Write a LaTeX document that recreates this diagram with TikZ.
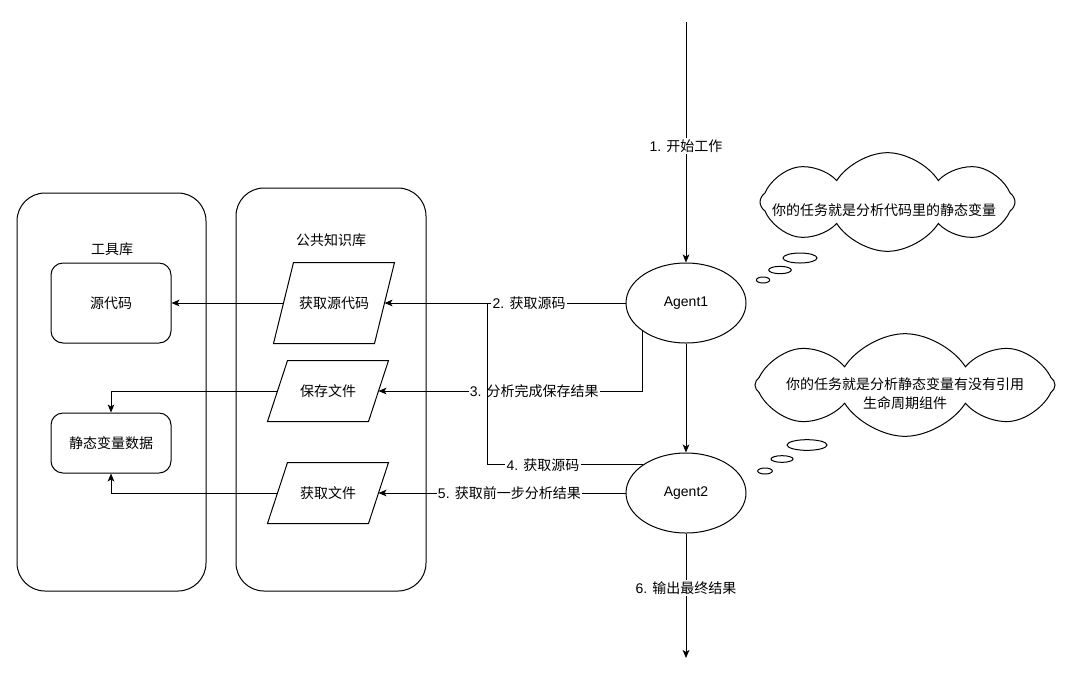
\documentclass[tikz,border=0pt]{standalone}
\usepackage{fontspec}
\setmainfont{Liberation Sans}
\newfontfamily\cjkf{Noto Sans CJK SC}
\newcommand\zh[1]{{\cjkf #1}}
\usetikzlibrary{arrows.meta,shapes.geometric,shapes.symbols,calc}
\begin{document}
\begin{tikzpicture}[x=0.75pt,y=-0.75pt,line width=0.75pt,
  every node/.style={font=\fontsize{10.5pt}{14.25pt}\selectfont},
  zhs/.style={font=\fontsize{10.5pt}{14.25pt}\selectfont\cjkf},
  container/.style={draw, rounded corners=21pt, inner sep=0pt},
  box/.style={draw, rounded corners=9pt, inner sep=0pt, minimum width=90pt, zhs},
  para/.style={inner sep=0pt, minimum width=90pt, zhs},
  agent/.style={draw, ellipse, inner sep=0pt, minimum width=90pt, minimum height=60pt},
  lbl/.style={fill=white, inner sep=1pt},
  arr/.style={-{Stealth[length=6pt,width=5pt,inset=1.5pt]}},
  thought/.style={draw, cloud, cloud puffs=8, cloud puff arc=115, inner sep=0pt},
  bubble/.style={draw, ellipse, inner sep=0pt}]
\useasboundingbox (0,0) rectangle (1073,679);

% containers
\node[container, minimum width=141.75pt, minimum height=298.5pt] (c1) at (111.5,392) {};
\node[container, minimum width=142.5pt, minimum height=302.25pt] (c2) at (331,389.5) {};
\node[zhs] (t1) at (112,249) {工具库};
\node[zhs] (t2) at (331,240) {公共知识库};

% tool boxes
\node[box, minimum height=60pt] (src) at (111,303) {源代码};
\node[box, minimum height=45pt] (data) at (111,443) {静态变量数据};

% knowledge parallelograms (text nodes, outlines drawn below)
\node[para, minimum height=60pt] (p1) at (334,303) {获取源代码};
\node[para, minimum height=45pt] (p2) at (328,391) {保存文件};
\node[para, minimum height=45pt] (p3) at (328,493) {获取文件};
\foreach \p in {p1,p2,p3}{
  \draw ($(\p.north west)+(20,0)$) -- (\p.north east) -- ($(\p.south east)+(-20,0)$) -- (\p.south west) -- cycle;
  \coordinate (\p e) at ($(\p.east)+(-10,0)$);
  \coordinate (\p w) at ($(\p.west)+(10,0)$);
}

% agents
\node[agent] (a1) at (686,303) {Agent1};
\node[agent] (a2) at (686,493) {Agent2};
\coordinate (start) at (686,22);
\coordinate (finish) at (686,658);
\coordinate (j4) at (487,303);

% thought clouds
\node[thought, aspect=2.55, minimum width=191.25pt, minimum height=74pt] (cl1) at (887.5,202) {};
\node[zhs] (ct1) at (884,210) {你的任务就是分析代码里的静态变量};
\node[bubble, minimum width=25.5pt, minimum height=7.5pt] (b11) at (800,258) {};
\node[bubble, minimum width=17pt, minimum height=5.5pt] (b12) at (780,270) {};
\node[bubble, minimum width=10pt, minimum height=4.5pt] (b13) at (763,280) {};

\node[thought, aspect=2.9, minimum width=225pt, minimum height=77pt] (cl2) at (905,385) {};
\node[zhs, align=center] (ct2) at (905,393.5) {你的任务就是分析静态变量有没有引用\\生命周期组件};
\node[bubble, minimum width=30pt, minimum height=8pt] (b21) at (807,445) {};
\node[bubble, minimum width=16.5pt, minimum height=5pt] (b22) at (782,459) {};
\node[bubble, minimum width=11pt, minimum height=4.5pt] (b23) at (765,471) {};

% connectors
\draw[arr] (start) -- node[lbl, pos=0.515] {1. \zh{开始工作}} (a1);
\draw[arr] (a1) -- (a2);
\draw[arr] (a2) -- node[lbl, pos=0.44] {6. \zh{输出最终结果}} (finish);
\draw[arr] (a1.west) -- node[lbl, pos=0.40] {2. \zh{获取源码}} (p1e);
\draw[arr] (p1w) -- (src.east);
\draw[arr] (a1.213) |- node[lbl, pos=0.705] {3. \zh{分析完成保存结果}} (p2e);
\draw (a2.147) -| node[lbl, pos=0.32] {4. \zh{获取源码}} (j4);
\draw[arr] (a2.west) -- node[lbl, pos=0.47] {5. \zh{获取前一步分析结果}} (p3e);
\draw[arr] (p2w) -| (data.north);
\draw[arr] (p3w) -| (data.south);
\end{tikzpicture}
\end{document}
